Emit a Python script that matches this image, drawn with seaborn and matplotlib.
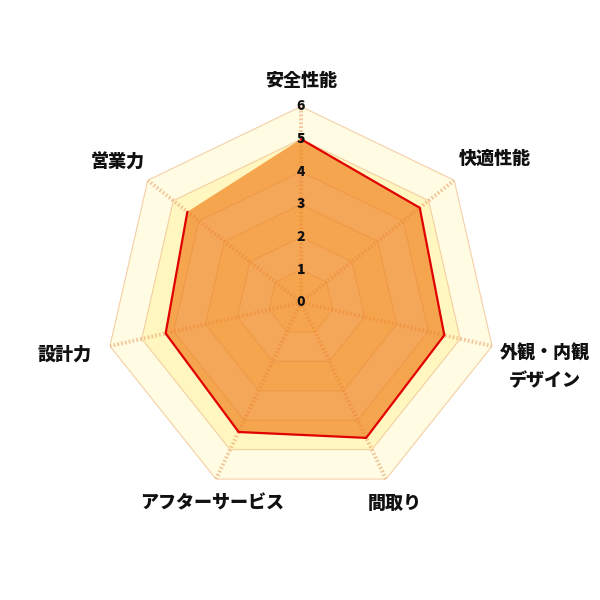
# %% libraries
import numpy as np
import pandas as pd
import matplotlib
matplotlib.use('Agg')
import matplotlib.pyplot as plt
import seaborn as sns

# %% data
labels = ['安全性能', '快適性能', '外観・内観\nデザイン', '間取り',
          'アフターサービス', '設計力', '営業力']
values = [5.0, 4.65, 4.5, 4.6, 4.4, 4.25, 4.45]
ticks = [0, 1, 2, 3, 4, 5, 6]

# %% style
sns.set_theme(style='white')
plt.rcParams['font.family'] = ['Noto Sans CJK JP', 'DejaVu Sans']

n = len(labels)
theta = np.arange(n) * 2 * np.pi / n
theta_c = np.append(theta, theta[0])

fig = plt.figure(figsize=(6, 6), dpi=100)
cx, cy, rad = 301 / 600, 1 - 302.5 / 600, 196 / 600
ax = fig.add_axes([cx - rad, cy - rad, 2 * rad, 2 * rad], projection='polar')
ax.set_theta_zero_location('N')
ax.set_theta_direction(-1)
ax.set_ylim(0, ticks[-1])
ax.grid(False)
ax.spines['polar'].set_visible(False)
ax.set_xticks([])
ax.set_yticks([])
ax.patch.set_alpha(0)

# bands, outer first
band_pale = '#fffce3'
band_yel = '#fff7bf'
for k in ticks[::-1][:-1]:
    col = band_pale if k % 2 == 0 else band_yel
    ax.fill(theta_c, [k] * (n + 1), color=col, lw=0, zorder=1)

# ring lines
for k in ticks[1:]:
    ax.plot(theta_c, [k] * (n + 1), color='#f2c496', lw=0.8, alpha=0.8,
            zorder=2)

# spokes
for t in theta:
    ax.plot([t, t], [0, ticks[-1]], color='#efb07a', lw=2.8, alpha=0.7,
            ls=(0, (0.45, 0.55)), zorder=2)

# data
df = pd.DataFrame({'theta': theta_c, 'value': values + values[:1]})
ax.fill(df.theta, df.value, color=(0.94, 0.51, 0.12), alpha=0.7, lw=0,
        zorder=3)
sns.lineplot(data=df, x='theta', y='value', sort=False, color='#e00000',
             lw=1.6, ax=ax, zorder=4)
ax.set_xlabel('')
ax.set_ylabel('')

# tick labels
for k in ticks:
    ax.text(0, k, str(k), ha='center', va='center', fontsize=10,
            fontweight='heavy', color='#111111', zorder=5)

# axis labels (offset in pixels from outer vertex)
offs = [(0, 26, 'center'), (5, 22, 'left'), (8, -21, 'left'),
        (9, -24, 'center'), (-4, -24, 'center'), (-18, -8, 'right'),
        (-3, 18, 'right')]
for t, lab, (dx, dy, ha) in zip(theta, labels, offs):
    ax.annotate(lab, xy=(t, ticks[-1]), xytext=(dx * 0.72, dy * 0.72),
                textcoords='offset points', ha=ha, va='center',
                fontsize=13, fontweight='heavy', color='#111111',
                multialignment='center', linespacing=1.6,
                annotation_clip=False, zorder=5)

fig.savefig('out.png', dpi=100)
